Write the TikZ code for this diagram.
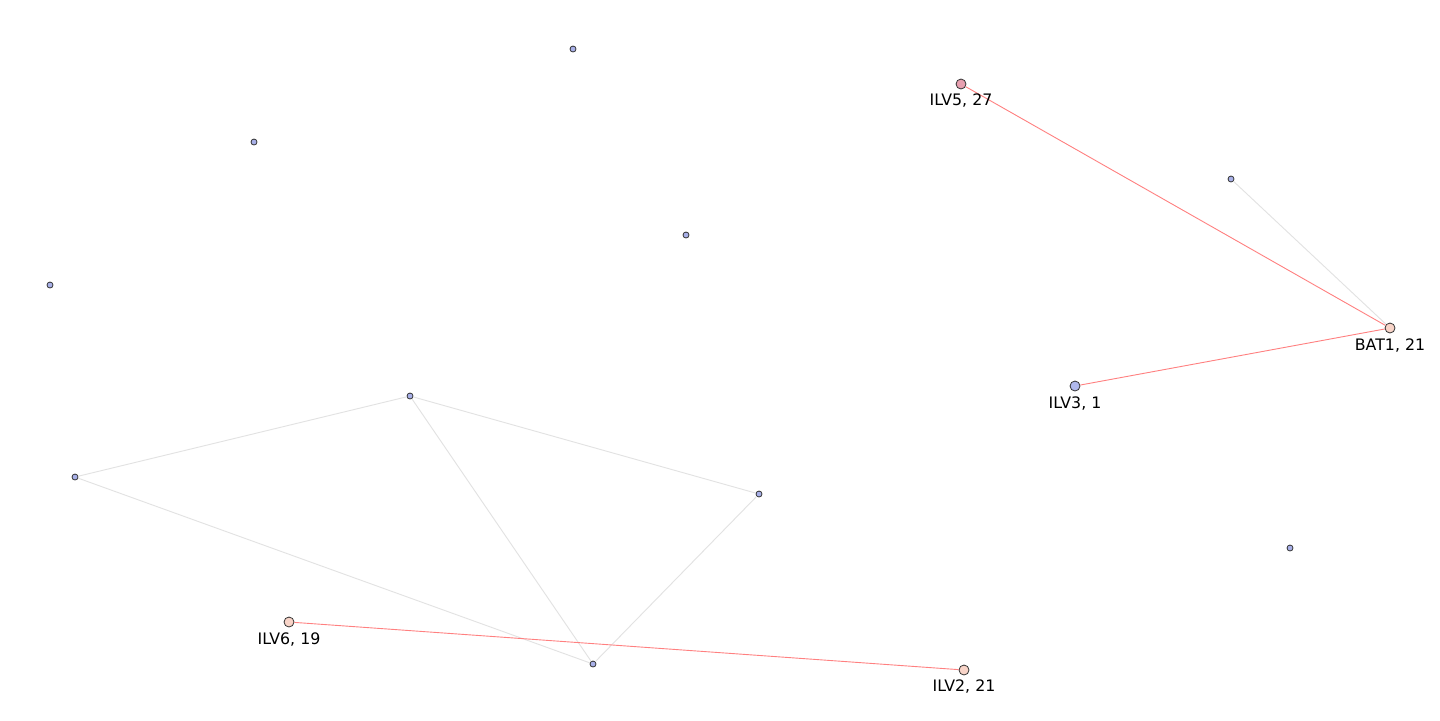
\documentclass[tikz,border=0pt]{standalone}
\usepackage{fontspec}
\setmainfont{DejaVu Sans}
\begin{document}
\begin{tikzpicture}[x=0.5pt,y=-0.5pt,
  small/.style={circle,draw=black!80,line width=0.4pt,fill=smallfill,inner sep=0pt,minimum size=3pt},
  big/.style={circle,draw=black!80,line width=0.4pt,inner sep=0pt,minimum size=5pt},
  lbl/.style={font=\fontsize{7.9}{10}\selectfont,text=black},
  grayedge/.style={draw=edgegray,line width=0.45pt},
  rededge/.style={draw=edgered,line width=0.45pt}]
\definecolor{smallfill}{HTML}{A8B0E8}
\definecolor{edgegray}{HTML}{E2E2E2}
\definecolor{edgered}{HTML}{FF8080}
\definecolor{peach}{HTML}{F8D4C8}
\definecolor{pinkish}{HTML}{E8A0B0}
\definecolor{lav}{HTML}{B0B8EC}
\useasboundingbox[fill=white] (0,0) rectangle (1440,720);
% small nodes
\node[small] (n1) at (573,49) {};
\node[small] (n2) at (254,142) {};
\node[small] (n3) at (686,235) {};
\node[small] (n4) at (50,285) {};
\node[small] (n5) at (410,396) {};
\node[small] (n6) at (75,477) {};
\node[small] (n7) at (759,494) {};
\node[small] (n8) at (593,664) {};
\node[small] (n9) at (1231,179) {};
\node[small] (n10) at (1290,548) {};
% big nodes
\node[big,fill=pinkish] (ilv5) at (961,84) {};
\node[big,fill=peach] (bat1) at (1390,328) {};
\node[big,fill=lav] (ilv3) at (1075,386) {};
\node[big,fill=peach] (ilv6) at (289,622) {};
\node[big,fill=peach] (ilv2) at (964,670) {};
% edges
\path[grayedge] (n5) -- (n6);
\path[grayedge] (n5) -- (n8);
\path[grayedge] (n5) -- (n7);
\path[grayedge] (n6) -- (n8);
\path[grayedge] (n7) -- (n8);
\path[grayedge] (n9) -- (bat1);
\path[rededge] (ilv5) -- (bat1);
\path[rededge] (ilv3) -- (bat1);
\path[rededge] (ilv6) -- (ilv2);
% labels
\node[lbl] (l5) at (961,101) {ILV5, 27};
\node[lbl] (lb) at (1390,346) {BAT1, 21};
\node[lbl] (l3) at (1075,404) {ILV3, 1};
\node[lbl] (l6) at (289,640) {ILV6, 19};
\node[lbl] (l2) at (964,687) {ILV2, 21};
\end{tikzpicture}
\end{document}
